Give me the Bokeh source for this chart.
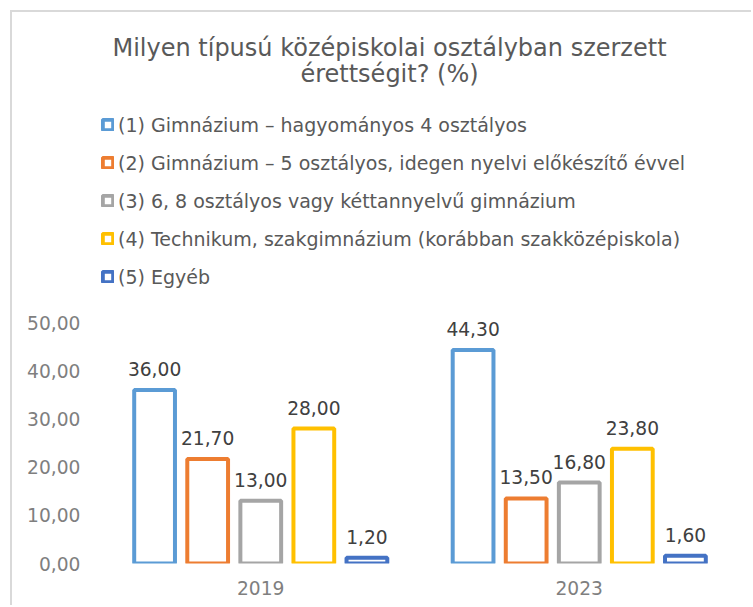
from bokeh.plotting import figure
from bokeh.models import (ColumnDataSource, FactorRange, Range1d, FixedTicker,
                          CustomJSTickFormatter, LabelSet, Label, Legend, LegendItem)
from bokeh.core.properties import value
from bokeh.transform import dodge
from bokeh.embed import file_html
from bokeh.resources import INLINE

# ---- data ----
years = ["2019", "2023"]
series_names = [
    "(1) Gimnázium – hagyományos 4 osztályos",
    "(2) Gimnázium – 5 osztályos, idegen nyelvi előkészítő évvel",
    "(3) 6, 8 osztályos vagy kéttannyelvű gimnázium",
    "(4) Technikum, szakgimnázium (korábban szakközépiskola)",
    "(5) Egyéb",
]
s1 = [36.0, 44.3]
s2 = [21.7, 13.5]
s3 = [13.0, 16.8]
s4 = [28.0, 23.8]
s5 = [1.2, 1.6]
y_ticks = [0, 10, 20, 30, 40, 50]
title_lines = ["Milyen típusú középiskolai osztályban szerzett", "érettségit? (%)"]

series_values = [s1, s2, s3, s4, s5]
colors = ["#5B9BD5", "#ED7D31", "#A5A5A5", "#FFC000", "#4472C4"]

FONT = "DejaVu Sans"

# layout (pixels): the plot frame spans the whole chart height so that the title and
# legend (drawn inside the frame) are not clipped; the value axis keeps its scale.
FRAME_H = 551          # frame height in px
SCALE_H = 241          # px spanned by 0..50
y_end = 50 * FRAME_H / SCALE_H

p = figure(width=741, height=595, output_backend="svg", toolbar_location=None,
           title=None,
           x_range=FactorRange(factors=years, range_padding=0),
           y_range=Range1d(0, y_end),
           min_border_left=89, min_border_right=15, min_border_top=0, min_border_bottom=44)
p.styles = {"margin-left": "10px", "margin-top": "10px",
            "border-left": "2px solid #d9d9d9", "border-top": "2px solid #d9d9d9"}
p.outline_line_color = None
p.grid.visible = False
p.background_fill_color = "white"
p.border_fill_color = "white"

# axes
for ax in (p.xaxis[0], p.yaxis[0]):
    ax.axis_line_color = None
    ax.major_tick_line_color = None
    ax.minor_tick_line_color = None
    ax.major_tick_out = 0
    ax.major_tick_in = 0
    ax.minor_tick_out = 0
    ax.major_label_text_font = FONT
    ax.major_label_text_font_size = "14pt"
    ax.major_label_text_color = "#7f7f7f"
p.yaxis.ticker = FixedTicker(ticks=y_ticks)
p.yaxis.formatter = CustomJSTickFormatter(code="return tick.toFixed(2).replace('.', ',');")
p.yaxis.major_label_standoff = 21
p.xaxis.major_label_standoff = 17

n = len(series_values)
slot = 1.0 / 6.0
items = []
for i, (name, vals, col) in enumerate(zip(series_names, series_values, colors)):
    off = (i - (n - 1) / 2) * slot
    src = ColumnDataSource(dict(year=years, value=vals,
                                label=[f"{v:.2f}".replace(".", ",") for v in vals]))
    r = p.vbar(x=dodge("year", off, range=p.x_range), top="value", bottom=0, width=0.128,
               source=src, fill_color="white", line_color=col, line_width=4)
    items.append(LegendItem(label=name, renderers=[r]))
    labels = LabelSet(x=dodge("year", off, range=p.x_range), y="value", text="label",
                      source=src, text_align="center", text_baseline="middle",
                      y_offset=21, text_font=value(FONT), text_font_size="14pt",
                      text_color="#404040")
    p.add_layout(labels)

legend = Legend(items=items, location=(0, 275), orientation="vertical",
                label_text_font=FONT, label_text_font_size="19px",
                label_text_color="#595959", glyph_width=13, glyph_height=13,
                label_standoff=4, label_height=23, spacing=15, padding=0, margin=0,
                border_line_color=None, background_fill_alpha=0)
p.add_layout(legend, "center")

# title (two centred lines)
for line, yy in zip(title_lines, [516, 490]):
    p.add_layout(Label(x=288, y=yy, x_units="screen", y_units="screen", text=line,
                       text_align="center", text_baseline="middle", text_font=FONT,
                       text_font_size="24px", text_color="#595959"))

open("out.html", "w").write(file_html(p, INLINE))
